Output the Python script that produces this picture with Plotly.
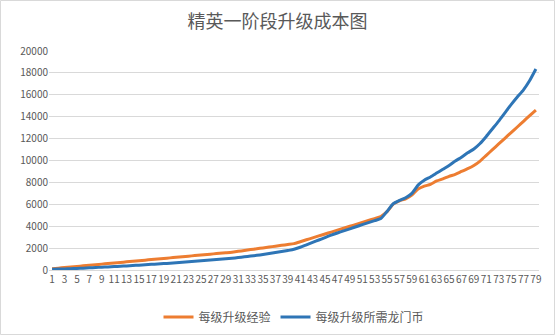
import plotly.graph_objects as go

levels = [str(i) for i in range(1, 80)]

exp_cost = [
    120, 172, 224, 276, 328, 380, 432, 484, 536, 588,
    640, 692, 744, 796, 848, 900, 952, 1004, 1056, 1108,
    1160, 1212, 1264, 1316, 1368, 1420, 1472, 1524, 1576, 1628,
    1706, 1784, 1862, 1940, 2018, 2096, 2174, 2252, 2330, 2408,
    2584, 2760, 2936, 3112, 3288, 3464, 3640, 3816, 3992, 4168,
    4344, 4520, 4696, 4890, 5326, 6019, 6312, 6505, 6838, 7391,
    7657, 7823, 8129, 8326, 8553, 8741, 9000, 9250, 9550, 9950,
    10470, 10990, 11510, 12030, 12550, 13060, 13580, 14100, 14610,
]

gold_cost = [
    60, 80, 100, 120, 145, 170, 195, 225, 255, 285,
    315, 345, 375, 410, 445, 480, 515, 550, 585, 625,
    665, 705, 745, 790, 835, 880, 925, 975, 1025, 1075,
    1135, 1200, 1270, 1340, 1420, 1500, 1590, 1680, 1780, 1890,
    2080, 2300, 2520, 2740, 2960, 3180, 3380, 3570, 3760, 3950,
    4140, 4330, 4510, 4700, 5350, 6050, 6350, 6600, 7000, 7750,
    8200, 8500, 8850, 9200, 9550, 9950, 10300, 10700, 11050, 11550,
    12200, 12900, 13600, 14350, 15100, 15800, 16450, 17300, 18350,
]

tick_labels = [str(i) for i in range(1, 80, 2)]
y_ticks = list(range(0, 20001, 2000))
y_tick_text = [str(v) for v in y_ticks]

title_text = "精英一阶段升级成本图"
name_exp = "每级升级经验"
name_gold = "每级升级所需龙门币"

FONT = "Noto Sans CJK SC"
GRAY = "#595959"

fig = go.Figure()
fig.add_trace(go.Scatter(
    x=levels, y=exp_cost, mode="lines", name=name_exp,
    line=dict(color="#ED7D31", width=3, shape="spline", smoothing=0.6),
))
fig.add_trace(go.Scatter(
    x=levels, y=gold_cost, mode="lines", name=name_gold,
    line=dict(color="#2E75B6", width=3, shape="spline", smoothing=0.6),
))

fig.update_layout(
    width=555, height=335,
    margin=dict(l=49, r=16, t=51, b=65, autoexpand=False),
    paper_bgcolor="white", plot_bgcolor="white",
    font=dict(family=FONT, color=GRAY, size=10),
    title=dict(text=title_text, x=0.5, xanchor="center", y=1 - 22 / 335, yanchor="middle",
               font=dict(family=FONT, size=18, color=GRAY)),
    showlegend=True,
    legend=dict(orientation="h", x=0.5, xanchor="center", y=(270 - 317) / 219, yanchor="middle",
                font=dict(family=FONT, size=12, color=GRAY), itemwidth=30,
                tracegroupgap=0, bgcolor="rgba(0,0,0,0)"),
    xaxis=dict(
        type="category", tickmode="array", tickvals=tick_labels, ticktext=tick_labels,
        tickangle=0, showgrid=False, showline=True, linecolor="#D9D9D9", linewidth=1,
        ticks="", tickfont=dict(family=FONT, size=10, color=GRAY), automargin=False,
        range=[-0.5, len(levels) - 0.5], fixedrange=True,
    ),
    yaxis=dict(
        range=[0, 20000], tickmode="array", tickvals=y_ticks, ticktext=y_tick_text,
        showgrid=True, gridcolor="#D9D9D9", automargin=False,
        gridwidth=1, zeroline=False, showline=False, ticks="",
        tickfont=dict(family=FONT, size=10, color=GRAY), ticklen=0,
    ),
    shapes=[dict(
        type="rect", xref="paper", yref="paper",
        x0=(0.5 - 49) / 490, x1=(554.5 - 49) / 490,
        y0=(270 - 334.5) / 219, y1=(270 - 0.5) / 219,
        line=dict(color="#D9D9D9", width=1), fillcolor="rgba(0,0,0,0)", layer="below",
    )],
)

fig.write_html("out.html")
